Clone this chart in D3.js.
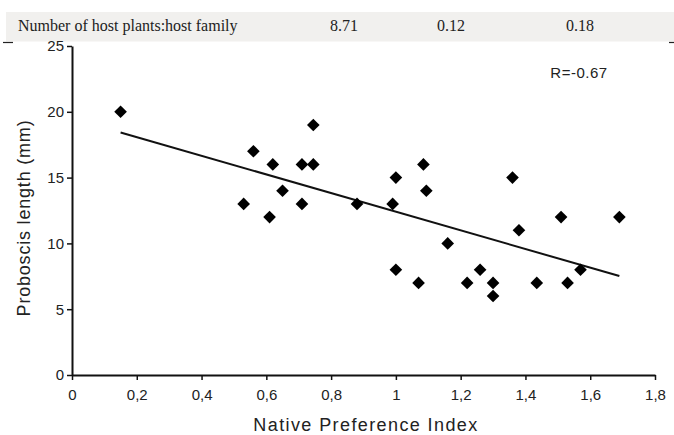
<!DOCTYPE html>
<html><head><meta charset="utf-8">
<script src="https://cdn.jsdelivr.net/npm/d3@7"></script>
<style>body{margin:0;background:#fff;}svg{display:block;}</style>
</head><body>
<svg id="c" width="674" height="435"></svg>
<script>
const npiValues = [0.15,0.53,0.56,0.61,0.62,0.65,0.71,0.71,0.745,0.745,0.88,0.99,1.0,1.0,1.085,1.094,1.16,1.07,1.22,1.26,1.30,1.30,1.36,1.38,1.435,1.51,1.53,1.57,1.69];
const proboscisValues = [20,13,17,12,16,14,16,13,16,19,13,13,15,8,16,14,10,7,7,8,7,6,15,11,7,12,7,8,12];
const regressionX = [0.15, 1.69];
const regressionY = [18.43, 7.52];
const xTicks = [0,0.2,0.4,0.6,0.8,1,1.2,1.4,1.6,1.8];
const xTickLabels = ["0","0,2","0,4","0,6","0,8","1","1,2","1,4","1,6","1,8"];
const yTicks = [0,5,10,15,20,25];
const tableRow = ["Number of host plants:host family","8.71","0.12","0.18"];
const rLabel = "R=-0.67";

const svg = d3.select("#c");
// top table band
svg.append("rect").attr("x",6).attr("y",12).attr("width",668).attr("height",29.5).attr("fill","#f1f0ee");
const colX = [18,330,437,566];
tableRow.forEach((t,i)=>{
  svg.append("text").attr("x",colX[i]).attr("y",31).attr("font-family","Liberation Serif, Times New Roman, serif")
    .attr("font-size",16).attr("fill","#222").text(t);
});
svg.append("line").attr("x1",3).attr("x2",13).attr("y1",42.5).attr("y2",42.5).attr("stroke","#222").attr("stroke-width",1.2);
svg.append("line").attr("x1",669).attr("x2",674).attr("y1",42.5).attr("y2",42.5).attr("stroke","#222").attr("stroke-width",1.2);

const x = d3.scaleLinear().domain([0,1.8]).range([72,655]);
const y = d3.scaleLinear().domain([0,25]).range([375,46]);

const font = "Liberation Sans, Arial, sans-serif";
const xAxis = svg.append("g").attr("transform","translate(0,375)")
  .call(d3.axisBottom(x).tickValues(xTicks).tickFormat((d,i)=>xTickLabels[i]).tickSize(5).tickSizeOuter(0));
const yAxis = svg.append("g").attr("transform","translate(72,0)")
  .call(d3.axisLeft(y).tickValues(yTicks).tickSize(5).tickSizeOuter(0));
[xAxis,yAxis].forEach(g=>{
  g.select(".domain").attr("stroke","#111").attr("stroke-width",2);
  g.selectAll(".tick line").attr("stroke","#111").attr("stroke-width",1.5);
  g.selectAll("text").attr("font-family",font).attr("font-size",15).attr("fill","#222");
});
xAxis.selectAll("text").attr("dy","0.71em").attr("y",14);
yAxis.selectAll("text").attr("x",-8);

svg.append("text").attr("x",366).attr("y",431).attr("text-anchor","middle")
  .attr("font-family",font).attr("font-size",18).attr("letter-spacing",1.4).attr("fill","#222").text("Native Preference Index");
svg.append("text").attr("transform","translate(30,218) rotate(-90)").attr("text-anchor","middle")
  .attr("font-family",font).attr("font-size",18).attr("letter-spacing",0.8).attr("fill","#222").text("Proboscis length (mm)");

svg.append("text").attr("x",579).attr("y",78).attr("text-anchor","middle")
  .attr("font-family",font).attr("font-size",15).attr("letter-spacing",0.5).attr("fill","#222").text(rLabel);

// regression line
svg.append("path").datum(regressionX.map((d,i)=>[d,regressionY[i]]))
  .attr("d",d3.line().x(d=>x(d[0])).y(d=>y(d[1])))
  .attr("stroke","#111").attr("stroke-width",2).attr("fill","none");

// points
const sym = d3.symbol().type(d3.symbolSquare).size(80);
svg.append("g").selectAll("path").data(npiValues.map((d,i)=>[d,proboscisValues[i]])).join("path")
  .attr("transform",d=>`translate(${x(d[0])},${y(d[1])}) rotate(45)`)
  .attr("d",sym).attr("fill","#000");
</script>
</body></html>
